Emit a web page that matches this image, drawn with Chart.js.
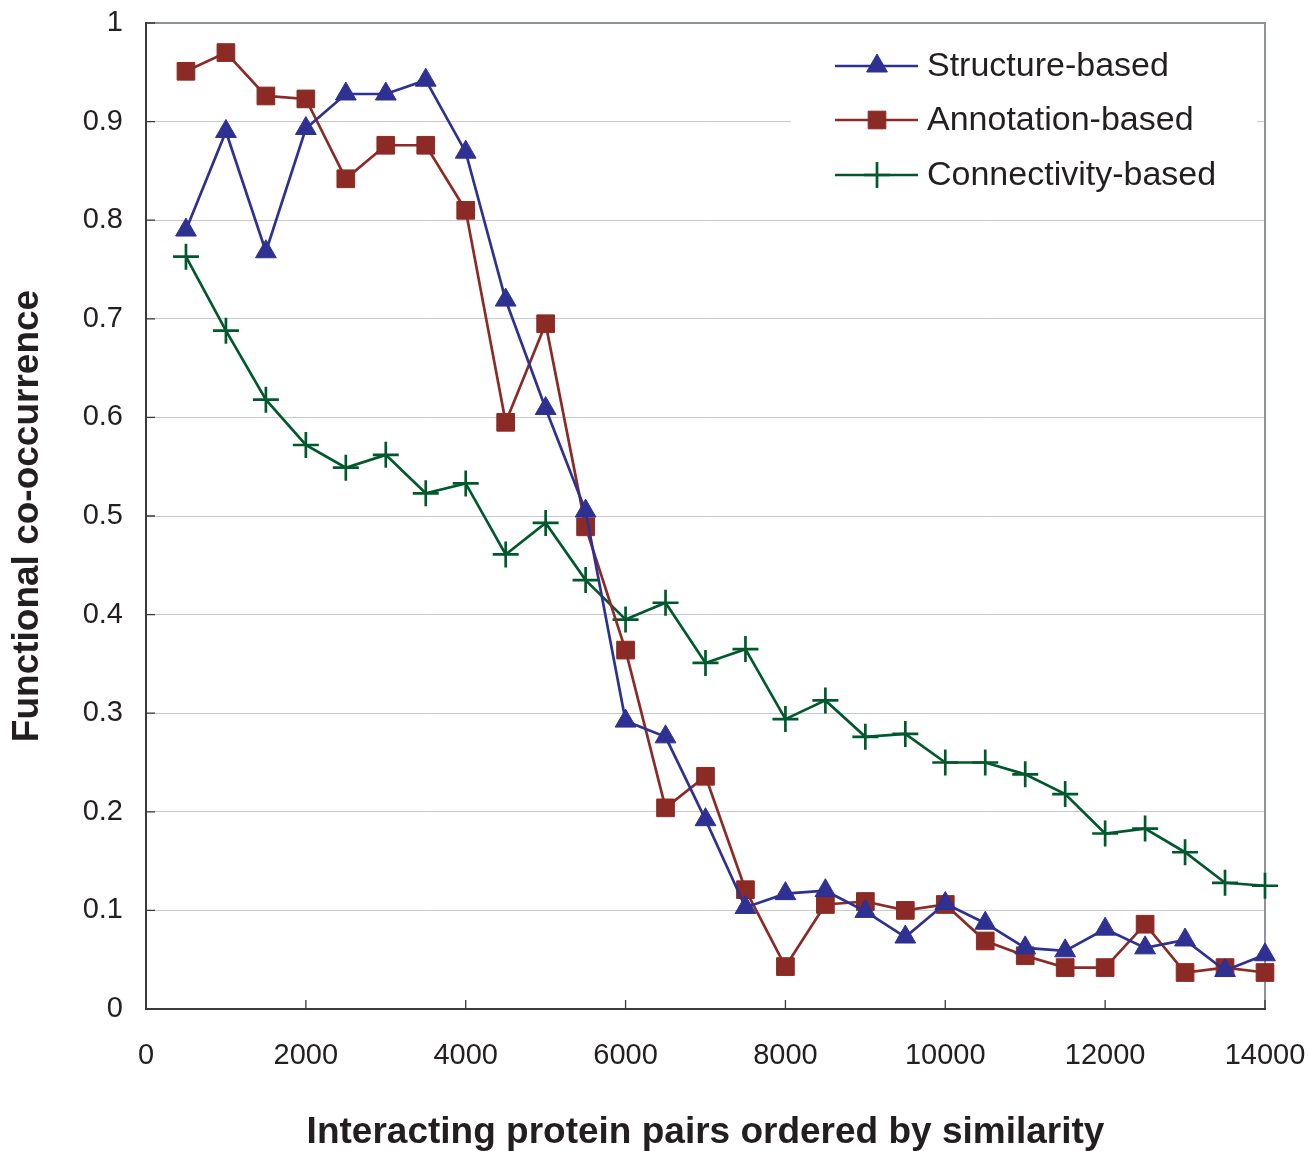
<!DOCTYPE html>
<html>
<head>
<meta charset="utf-8">
<script src="https://cdn.jsdelivr.net/npm/chart.js@4.4.1/dist/chart.umd.min.js"></script>
<style>
html, body { margin: 0; padding: 0; background: #ffffff; }
canvas { display: block; }
</style>
</head>
<body>
<canvas id="chart" width="1310" height="1151"></canvas>
<script>
// ---- data ----
const xValues = [500, 1000, 1500, 2000, 2500, 3000, 3500, 4000, 4500, 5000,
  5500, 6000, 6500, 7000, 7500, 8000, 8500, 9000, 9500, 10000,
  10500, 11000, 11500, 12000, 12500, 13000, 13500, 14000, 14500];

const structureBased = [0.790, 0.890, 0.768, 0.893, 0.928, 0.928, 0.942, 0.869, 0.719, 0.609,
  0.505, 0.292, 0.276, 0.192, 0.103, 0.117, 0.120, 0.099, 0.073, 0.107,
  0.087, 0.062, 0.059, 0.081, 0.062, 0.070, 0.039, 0.055, 0.053];

const annotationBased = [0.951, 0.970, 0.926, 0.923, 0.842, 0.876, 0.876, 0.810, 0.595, 0.695,
  0.489, 0.364, 0.204, 0.236, 0.121, 0.043, 0.106, 0.109, 0.100, 0.106,
  0.069, 0.054, 0.042, 0.042, 0.086, 0.037, 0.042, 0.037, 0.064];

const connectivityBased = [0.763, 0.688, 0.618, 0.572, 0.549, 0.562, 0.523, 0.533, 0.461, 0.493,
  0.435, 0.395, 0.412, 0.351, 0.365, 0.294, 0.313, 0.276, 0.279, 0.250,
  0.250, 0.238, 0.218, 0.178, 0.183, 0.159, 0.128, 0.125, 0.144];

const seriesNames = ['Structure-based', 'Annotation-based', 'Connectivity-based'];
const xTickLabels = ['0', '2000', '4000', '6000', '8000', '10000', '12000', '14000'];
const yTickLabels = ['0', '0.1', '0.2', '0.3', '0.4', '0.5', '0.6', '0.7', '0.8', '0.9', '1'];
const xTitle = 'Interacting protein pairs ordered by similarity';
const yTitle = 'Functional co-occurrence';

// ---- styles ----
const FONT = "'Liberation Sans', Arial, Helvetica, sans-serif";
const TEXT = '#231F20';
const BLUE = '#2E3192';
const RED = '#8C2A25';
const GREEN = '#00592D';

Chart.defaults.font.family = FONT;
Chart.defaults.color = TEXT;

function pts(vals) { return xValues.map((x, i) => ({ x: x, y: vals[i] })); }

const CLIP = { left: 6, top: 6, right: 15, bottom: 6 };

const datasets = [
  { label: seriesNames[0], data: pts(structureBased), borderColor: BLUE, backgroundColor: BLUE,
    borderWidth: 2.7, pointStyle: 'triangle', pointRadius: 12, pointBorderWidth: 1,
    pointBackgroundColor: BLUE, pointBorderColor: BLUE, tension: 0, clip: CLIP },
  { label: seriesNames[1], data: pts(annotationBased), borderColor: RED, backgroundColor: RED,
    borderWidth: 2.7, pointStyle: 'rect', pointRadius: 12.5, pointBorderWidth: 1,
    pointBackgroundColor: RED, pointBorderColor: RED, tension: 0, clip: CLIP },
  { label: seriesNames[2], data: pts(connectivityBased), borderColor: GREEN, backgroundColor: GREEN,
    borderWidth: 2.7, pointStyle: 'cross', pointRadius: 13, pointBorderWidth: 2.7,
    pointBackgroundColor: GREEN, pointBorderColor: GREEN, tension: 0, clip: CLIP }
];

const decor = {
  id: 'decor',
  beforeDatasetsDraw(chart) {
    const { ctx, chartArea: a, scales: { x, y } } = chart;
    ctx.save();
    // legend background (hides gridline behind legend)
    ctx.fillStyle = '#ffffff';
    ctx.fillRect(791, 36, 466, 170);
    // top and right frame
    ctx.strokeStyle = '#8E9398';
    ctx.lineWidth = 2;
    ctx.beginPath();
    ctx.moveTo(a.left, a.top);
    ctx.lineTo(a.right, a.top);
    ctx.lineTo(a.right, a.bottom);
    ctx.stroke();
    // axis lines
    ctx.strokeStyle = '#3A3A3C';
    ctx.lineWidth = 2;
    ctx.beginPath();
    ctx.moveTo(a.left, a.top - 1);
    ctx.lineTo(a.left, a.bottom);
    ctx.lineTo(a.right + 1, a.bottom);
    ctx.stroke();
    // inside tick marks
    ctx.lineWidth = 1.3;
    ctx.beginPath();
    y.ticks.forEach(t => {
      const py = y.getPixelForValue(t.value);
      ctx.moveTo(a.left, py);
      ctx.lineTo(a.left + 9, py);
    });
    x.ticks.forEach(t => {
      const px = x.getPixelForValue(t.value);
      ctx.moveTo(px, a.bottom);
      ctx.lineTo(px, a.bottom - 9);
    });
    ctx.stroke();
    ctx.restore();
  },
  afterDatasetsDraw(chart) {
    const { ctx } = chart;
    ctx.save();
    const rows = [66, 120, 175];
    chart.data.datasets.forEach((ds, i) => {
      const yy = rows[i];
      ctx.strokeStyle = ds.borderColor;
      ctx.lineWidth = 2.5;
      ctx.beginPath();
      ctx.moveTo(835, yy);
      ctx.lineTo(918, yy);
      ctx.stroke();
      ctx.fillStyle = ds.pointBackgroundColor;
      ctx.strokeStyle = ds.pointBorderColor;
      ctx.lineWidth = ds.pointBorderWidth;
      Chart.helpers.drawPoint(ctx, { pointStyle: ds.pointStyle, radius: ds.pointRadius,
        borderWidth: ds.pointBorderWidth, rotation: 0 }, 877, yy);
      ctx.fillStyle = TEXT;
      ctx.font = '34px ' + FONT;
      ctx.textAlign = 'left';
      ctx.textBaseline = 'middle';
      ctx.fillText(ds.label, 927, yy + 1);
    });
    ctx.restore();
  }
};

function zeroPad(scale) {
  scale.paddingTop = 0; scale.paddingBottom = 0;
  scale.paddingLeft = 0; scale.paddingRight = 0;
}

new Chart(document.getElementById('chart'), {
  type: 'line',
  data: { datasets: datasets },
  plugins: [decor],
  options: {
    responsive: false,
    animation: false,
    devicePixelRatio: 1,
    layout: { padding: { left: 0, top: 23, right: 45, bottom: 0 } },
    plugins: { legend: { display: false }, tooltip: { enabled: false } },
    scales: {
      x: {
        type: 'linear', min: 0, max: 14000,
        afterFit(scale) { scale.height = 142; zeroPad(scale); },
        ticks: { stepSize: 2000, autoSkip: false, maxRotation: 0, padding: 30,
          font: { size: 29 }, color: TEXT,
          callback: (v, i) => xTickLabels[i] },
        grid: { display: true, color: 'rgba(0,0,0,0)', drawTicks: false },
        border: { display: false },
        title: { display: true, text: xTitle, color: TEXT,
          font: { size: 37, weight: 'bold', lineHeight: 1 }, padding: { top: 0, bottom: 0 } }
      },
      y: {
        type: 'linear', min: 0, max: 1,
        afterFit(scale) { scale.width = 146; zeroPad(scale); },
        ticks: { stepSize: 0.1, autoSkip: false, padding: 23,
          font: { size: 29 }, color: TEXT,
          callback: (v, i) => yTickLabels[i] },
        grid: { color: '#C8C8D0', lineWidth: 1, drawTicks: false },
        border: { display: false },
        title: { display: true, text: yTitle, color: TEXT,
          font: { size: 37, weight: 'bold', lineHeight: 1 }, padding: { top: 9, bottom: 0 } }
      }
    }
  }
});
</script>
</body>
</html>
